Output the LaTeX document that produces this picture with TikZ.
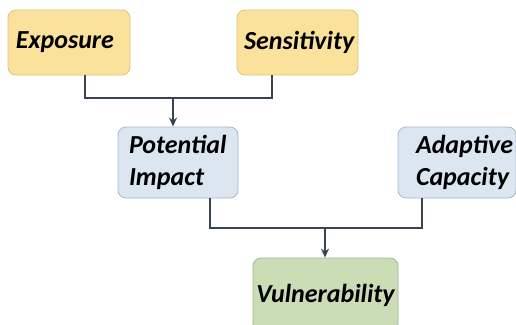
\documentclass[tikz,border=0pt]{standalone}
\usepackage{fontspec}
\setmainfont{Carlito}
\usetikzlibrary{arrows.meta}
\definecolor{VulLine}{HTML}{3A4350}
\definecolor{VulYellowFill}{HTML}{FBE29C}
\definecolor{VulYellowDraw}{HTML}{D8C383}
\definecolor{VulBlueFill}{HTML}{DCE6F1}
\definecolor{VulBlueDraw}{HTML}{A8B7C8}
\definecolor{VulGreenFill}{HTML}{CADDB5}
\definecolor{VulGreenDraw}{HTML}{A3B78E}

\begin{document}
\begin{tikzpicture}[x=1pt,y=-1pt,
    font=\fontsize{26}{32}\selectfont\bfseries\itshape,
    box/.style={rounded corners=8pt,line width=0.8pt,inner ysep=4pt},
    factor/.style={box,draw=VulYellowDraw,fill=VulYellowFill},
    middle/.style={box,draw=VulBlueDraw,fill=VulBlueFill},
    result/.style={box,draw=VulGreenDraw,fill=VulGreenFill},
    link/.style={draw=VulLine,line width=2.4pt},
    arrowtip/.style={-{Stealth[length=9pt,width=8pt]}}]
  \useasboundingbox (0,0) rectangle (516,324);

  % top row
  \node[factor,minimum width=122pt,minimum height=65pt,inner xsep=8pt,
        text width=106pt,align=left] (expo) at (69,42.5) {\raisebox{3pt}{Exposure}};
  \node[factor,minimum width=121pt,minimum height=65pt,inner xsep=7pt,
        text width=107pt,align=left] (sens) at (297.5,42.5) {\raisebox{3pt}{Sensitivity}};

  % middle row
  \node[middle,minimum width=120pt,minimum height=71pt,inner xsep=11pt,
        text width=98pt,align=left] (pimp) at (178,162.5) {Potential\\Impact};
  \node[middle,minimum width=118pt,minimum height=71pt,inner xsep=18pt,
        text width=82pt,align=left] (adap) at (457,162.5) {\hbox to 82pt{Adaptive\hss}\\\hbox to 82pt{Capacity\hss}};

  % outcome
  \node[result,minimum width=145pt,minimum height=74pt,align=center]
        (vuln) at (325.5,295) {Vulnerability};

  % connectors
  \coordinate (topjoin) at (173,98);
  \coordinate (botjoin) at (325,228);
  \draw[link] ([xshift=16pt]expo.south) |- (topjoin) -| ([xshift=-25.5pt]sens.south);
  \draw[link,arrowtip] (topjoin) -- (topjoin |- pimp.north);
  \draw[link] ([xshift=32pt]pimp.south) |- (botjoin) -| ([xshift=-35pt]adap.south);
  \draw[link,arrowtip] (botjoin) -- (botjoin |- vuln.north);
\end{tikzpicture}
\end{document}
